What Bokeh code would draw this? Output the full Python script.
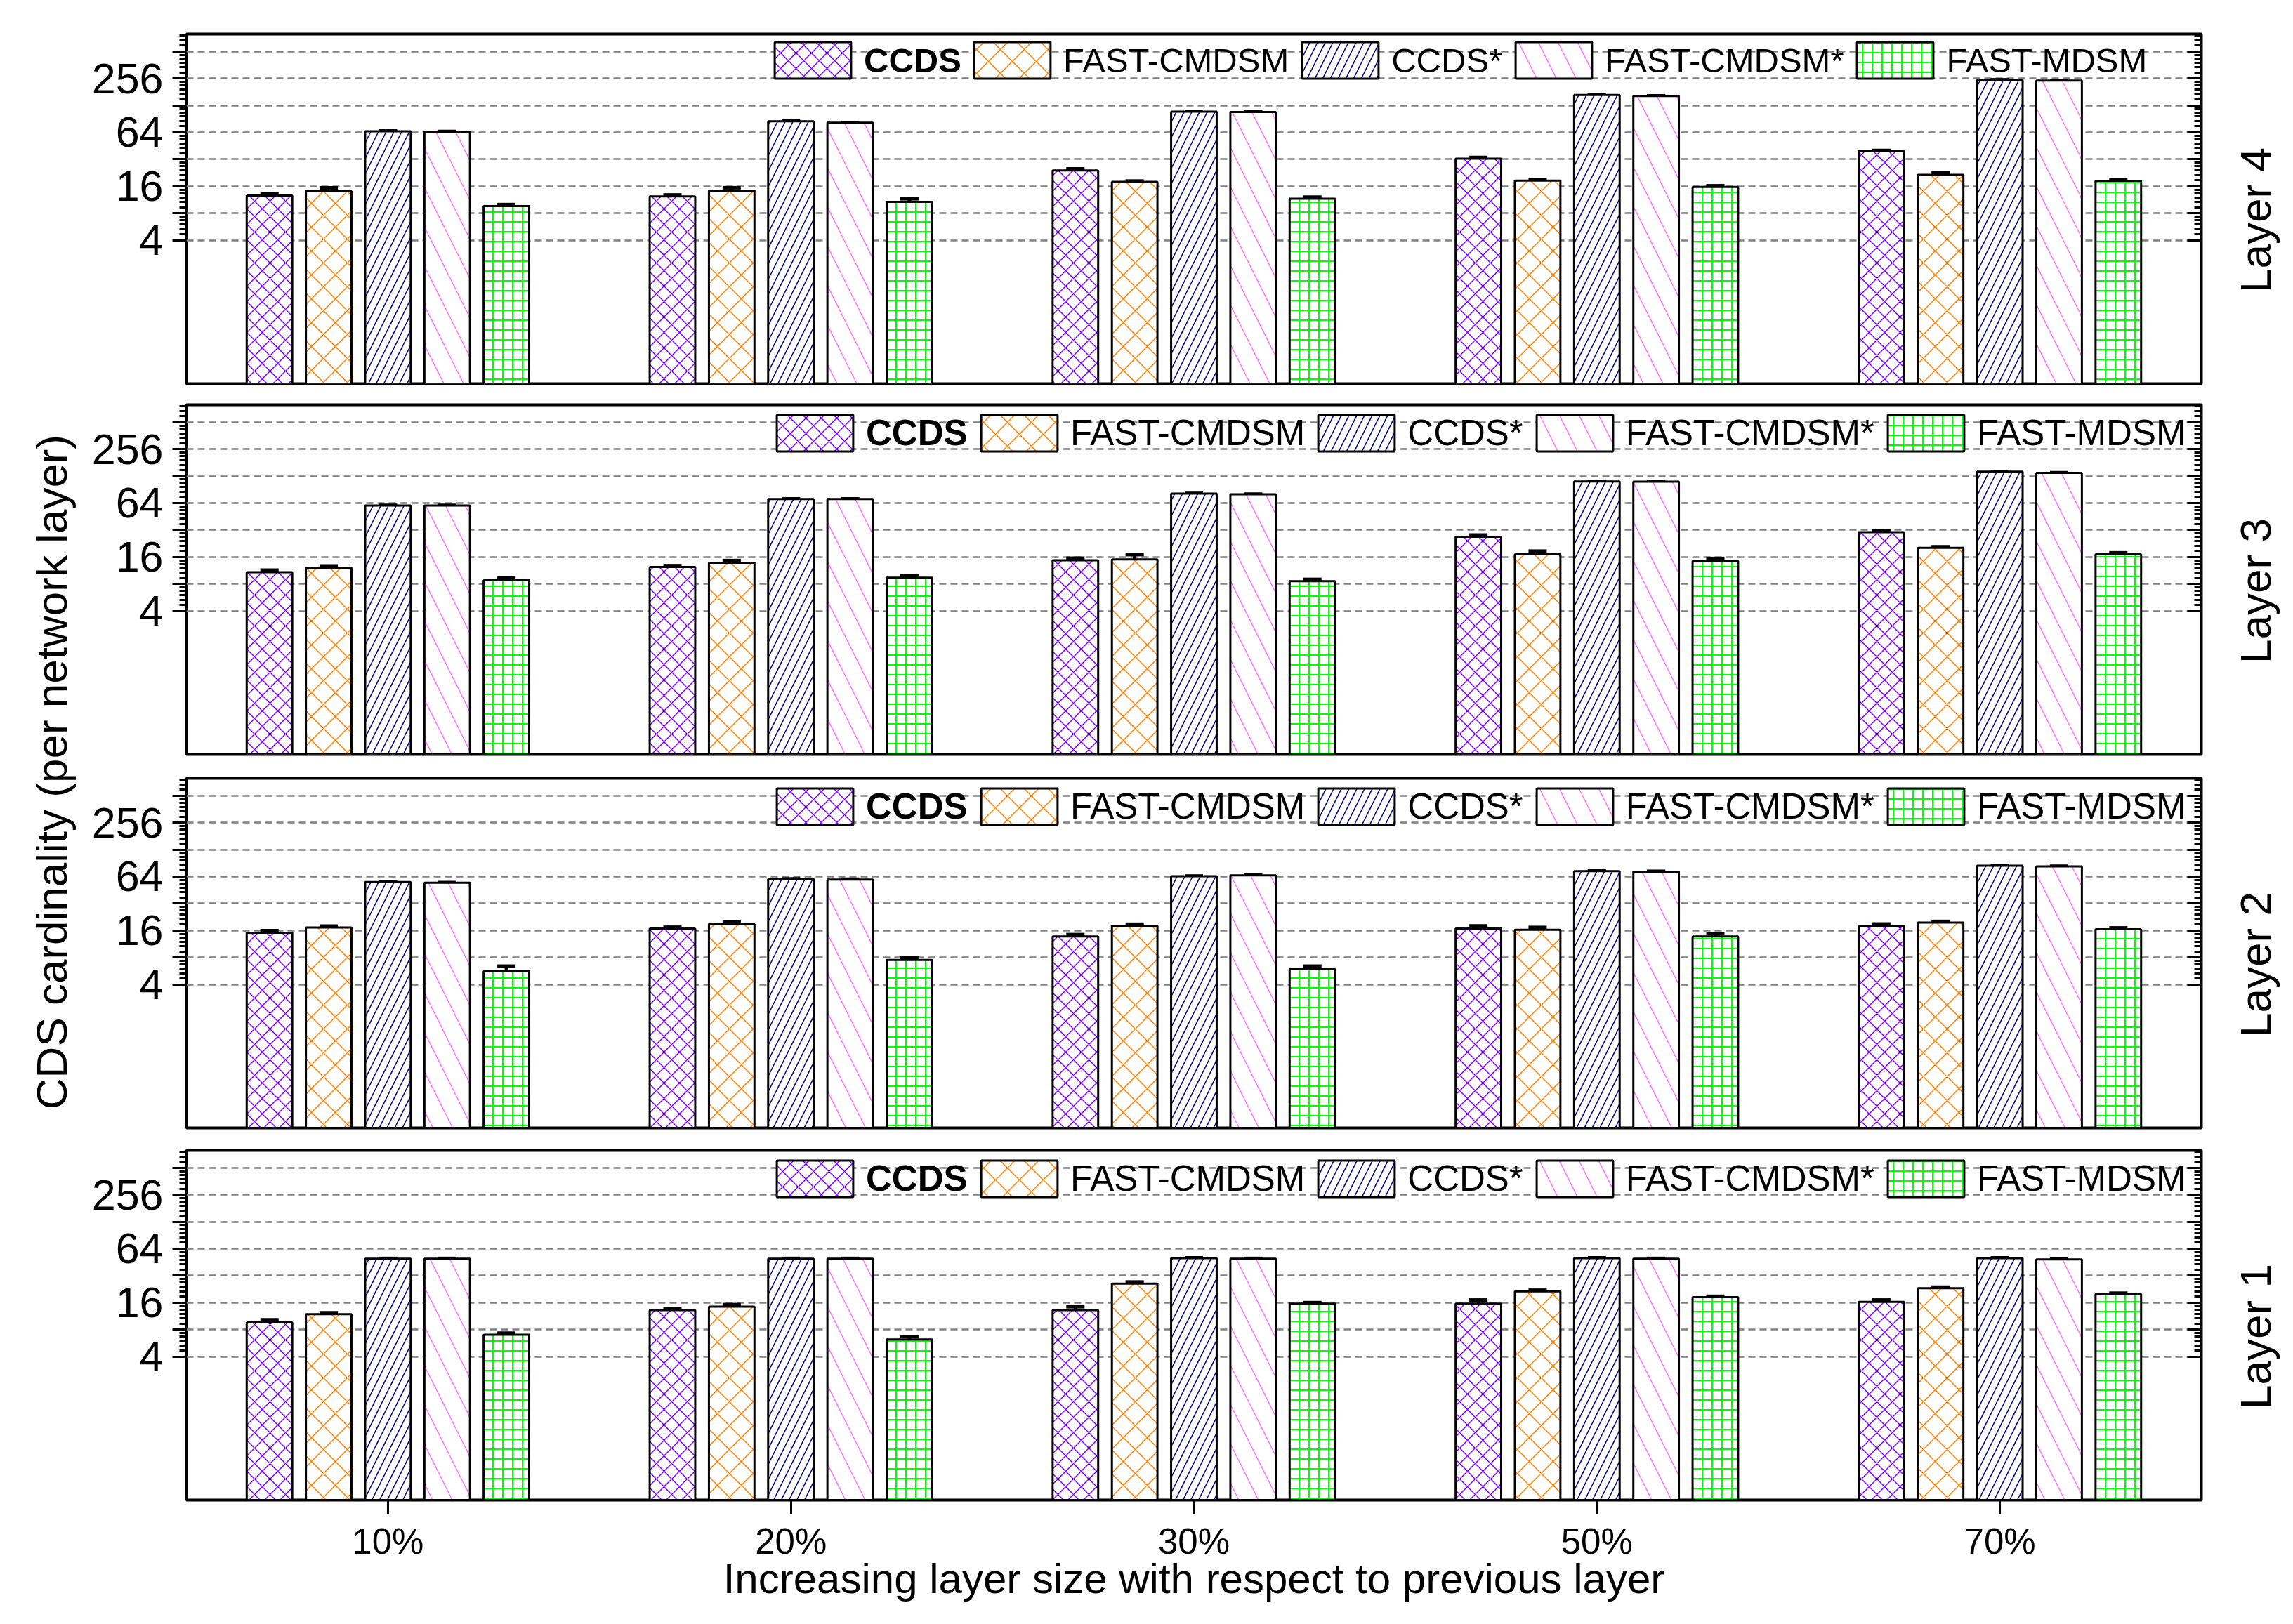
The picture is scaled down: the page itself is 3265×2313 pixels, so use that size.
import math
from bokeh.plotting import figure
from bokeh.models import (FactorRange, Range1d, FixedTicker, LogAxis, Legend, LegendItem,
                          Whisker, TeeHead, ColumnDataSource, Label)
from bokeh.transform import dodge
from bokeh.layouts import column, row
from bokeh.embed import file_html
from bokeh.resources import INLINE

FONT = "Liberation Sans"

# ---------------- data ----------------
groups = ["10%", "20%", "30%", "50%", "70%"]
series = ["CCDS", "FAST-CMDSM", "CCDS*", "FAST-CMDSM*", "FAST-MDSM"]
layers = ["Layer 4", "Layer 3", "Layer 2", "Layer 1"]

# Layer 4 (top panel)
l4_ccds = [12.6, 12.3, 24.0, 32.5, 39.3]
l4_fcm = [14.1, 14.3, 17.9, 18.5, 21.5]
l4_ccds_s = [65.8, 84.8, 109.0, 167.0, 246.0]
l4_fcm_s = [65.0, 82.0, 108.0, 163.0, 242.0]
l4_fmdsm = [9.6, 10.7, 11.6, 15.7, 18.4]
l4_err = [[0.6, 0.5, 1.0, 1.0, 0.9], [1.3, 1.1, 0.4, 0.5, 1.2], [0.4, 0.4, 0.5, 0.5, 0.5],
          [0.4, 0.4, 0.5, 0.5, 0.5], [0.4, 0.9, 0.5, 0.5, 0.7]]

# Layer 3
l3_ccds = [10.8, 12.4, 14.7, 26.9, 30.2]
l3_fcm = [12.1, 13.8, 15.0, 17.1, 20.2]
l3_ccds_s = [60.0, 71.0, 81.6, 111.6, 143.5]
l3_fcm_s = [60.0, 71.0, 80.0, 111.0, 139.0]
l3_fmdsm = [8.8, 9.4, 8.6, 14.4, 17.1]
l3_err = [[0.6, 0.4, 0.8, 1.2, 1.0], [0.6, 0.8, 2.0, 1.5, 0.6], [0.4, 0.4, 0.5, 0.5, 0.5],
          [0.4, 0.4, 0.5, 0.5, 0.5], [0.5, 0.4, 0.4, 1.0, 0.7]]

# Layer 2
l2_ccds = [15.1, 16.8, 13.7, 16.8, 18.1]
l2_fcm = [17.3, 18.9, 18.1, 16.3, 19.6]
l2_ccds_s = [55.5, 60.0, 64.5, 73.5, 84.4]
l2_fcm_s = [54.5, 59.3, 66.0, 72.7, 83.0]
l2_fmdsm = [5.6, 7.5, 5.9, 13.7, 16.5]
l2_err = [[0.8, 0.6, 0.7, 1.2, 0.8], [0.6, 1.2, 0.7, 1.0, 0.6], [0.4, 0.4, 0.4, 0.5, 0.5],
          [0.4, 0.4, 0.4, 0.5, 0.5], [0.8, 0.5, 0.5, 1.0, 0.6]]

# Layer 1 (bottom panel)
l1_ccds = [9.6, 13.2, 13.2, 15.6, 16.3]
l1_fcm = [11.9, 14.4, 26.0, 21.4, 23.2]
l1_ccds_s = [49.4, 49.4, 50.2, 50.2, 50.2]
l1_fcm_s = [49.4, 49.4, 49.4, 49.4, 48.5]
l1_fmdsm = [7.0, 6.2, 15.6, 18.4, 20.0]
l1_err = [[0.7, 0.4, 1.2, 1.5, 0.8], [0.4, 0.8, 1.2, 0.6, 0.6], [0.4, 0.4, 0.4, 0.4, 0.4],
          [0.4, 0.4, 0.4, 0.4, 0.4], [0.3, 0.5, 0.4, 0.4, 0.4]]

panel_values = [
    [l4_ccds, l4_fcm, l4_ccds_s, l4_fcm_s, l4_fmdsm],
    [l3_ccds, l3_fcm, l3_ccds_s, l3_fcm_s, l3_fmdsm],
    [l2_ccds, l2_fcm, l2_ccds_s, l2_fcm_s, l2_fmdsm],
    [l1_ccds, l1_fcm, l1_ccds_s, l1_fcm_s, l1_fmdsm],
]
panel_errors = [l4_err, l3_err, l2_err, l1_err]

major_ticks = [4, 8, 16, 32, 64, 128, 256, 512]
tick_labels = {4: "4", 8: "", 16: "16", 32: "", 64: "64", 128: "", 256: "256", 512: ""}

# ---------------- styles ----------------
hatch_colors = ["#8000ff", "#ff8000", "#000080", "#ff77ff", "#00ff00"]
hatch_patterns = ["x", "x", "/", "\\", "+"]
hatch_scales = [22, 34, 22, 56, 14]
hatch_weights = [1.5, 1.5, 1.5, 1.5, 2.0]
offsets = [-0.294, -0.147, 0.0, 0.147, 0.294]
BAR_W = 0.113

FRAME_W, FRAME_H = 2869, 498
BORDER_L, BORDER_R = 145, 20
LEFT_W, RIGHT_W = 120, 100
tops = [48, 15, 17, 16]
bottoms = [15, 17, 16, 160]
legend_font = ["49px", "51px", "51px", "51px"]
legend_xa = [824, 827, 827, 827]
legend_xb = [1108, 1118, 1118, 1118]
legend_y = [428, 425, 425, 425]

minor = []
for n in range(2, 10):
    for k in range(1, 6):
        v = 2 ** n * (1 + k / 6)
        if v <= 800:
            minor.append(v)


def make_panel(i):
    last = i == 3
    p = figure(x_range=FactorRange(*groups), y_range=Range1d(0.1, 800), y_axis_type="log",
               frame_width=FRAME_W, frame_height=FRAME_H,
               min_border_left=BORDER_L, min_border_right=BORDER_R,
               min_border_top=tops[i], min_border_bottom=bottoms[i],
               toolbar_location=None, output_backend="svg", title=None,
               x_axis_location="below" if last else None, y_axis_location="left")
    p.outline_line_color = "black"
    p.outline_line_width = 4
    p.outline_line_alpha = 1.0
    p.xgrid.visible = False
    p.background_fill_color = "white"
    p.border_fill_color = "white"

    yax = p.yaxis[0]
    yax.ticker = FixedTicker(ticks=major_ticks, minor_ticks=minor)
    yax.bounds = (4, 800)
    yax.major_label_overrides = {float(k): v for k, v in tick_labels.items()}
    yax.major_label_text_font = FONT
    yax.major_label_text_font_size = "61px"
    yax.major_label_text_color = "black"
    yax.major_label_standoff = 13
    yax.major_tick_out = 20
    yax.major_tick_in = 0
    yax.minor_tick_out = 10
    yax.minor_tick_in = 0
    yax.major_tick_line_width = 3
    yax.minor_tick_line_width = 3
    yax.axis_line_color = None

    p.ygrid.grid_line_color = "#808080"
    p.ygrid.grid_line_dash = "10 6"
    p.ygrid.grid_line_width = 2.5

    rax = LogAxis(ticker=FixedTicker(ticks=major_ticks, minor_ticks=minor), bounds=(4, 800),
                  major_label_overrides={float(k): "" for k in tick_labels},
                  major_label_text_font_size="1px",
                  major_tick_in=20, major_tick_out=0, minor_tick_in=10, minor_tick_out=0,
                  major_tick_line_width=3, minor_tick_line_width=3, axis_line_color=None)
    p.add_layout(rax, "right")

    vals = panel_values[i]
    errs = panel_errors[i]
    data = {"x": groups}
    for j in range(5):
        data[f"v{j}"] = vals[j]
        data[f"u{j}"] = [a + b for a, b in zip(vals[j], errs[j])]
        data[f"l{j}"] = [a - b for a, b in zip(vals[j], errs[j])]
    src = ColumnDataSource(data)

    rs = []
    for j in range(5):
        r = p.vbar(x=dodge("x", offsets[j], range=p.x_range), top=f"v{j}", bottom=0.01,
                   width=BAR_W, source=src, fill_color="white",
                   hatch_pattern=hatch_patterns[j], hatch_color=hatch_colors[j],
                   hatch_scale=hatch_scales[j], hatch_weight=hatch_weights[j],
                   line_color="black", line_width=3)
        rs.append(r)
    for j in range(5):
        w = Whisker(source=src, base=dodge("x", offsets[j], range=p.x_range),
                    upper=f"u{j}", lower=f"l{j}", line_color="black", line_width=5,
                    upper_head=TeeHead(size=26, line_width=5, line_color="black"),
                    lower_head=TeeHead(size=26, line_width=5, line_color="black"))
        p.add_layout(w)

    common = dict(orientation="horizontal", label_text_font=FONT,
                  label_text_font_size=legend_font[i], label_text_color="black",
                  glyph_width=136, glyph_height=65,
                  label_standoff=5, spacing=5, padding=0, margin=0,
                  border_line_color=None, background_fill_alpha=0)
    leg_a = Legend(items=[LegendItem(label=series[0], renderers=[rs[0]])],
                   location=(legend_xa[i], legend_y[i]), label_text_font_style="bold", **common)
    leg_b = Legend(items=[LegendItem(label=series[j], renderers=[rs[j]]) for j in range(1, 5)],
                   location=(legend_xb[i], legend_y[i]), **common)
    p.add_layout(leg_a, "center")
    p.add_layout(leg_b, "center")

    if last:
        xax = p.xaxis[0]
        xax.major_tick_out = 20
        xax.major_tick_in = 0
        xax.major_tick_line_width = 3
        xax.axis_line_color = None
        xax.major_label_text_font = FONT
        xax.major_label_text_font_size = "51px"
        xax.major_label_text_color = "black"
        xax.major_label_standoff = 10
        xax.axis_label = "Increasing layer size with respect to previous layer"
        xax.axis_label_text_font = FONT
        xax.axis_label_text_font_size = "60px"
        xax.axis_label_text_font_style = "normal"
        xax.axis_label_text_color = "black"
        xax.axis_label_standoff = -12
    return p


def blank_fig(w, h):
    f = figure(width=w, height=h, x_range=Range1d(0, 1), y_range=Range1d(0, 1),
               toolbar_location=None, output_backend="svg", title=None,
               x_axis_location=None, y_axis_location=None, min_border=0)
    f.outline_line_color = None
    f.grid.visible = False
    return f


panels = [make_panel(i) for i in range(4)]
heights = [tops[i] + FRAME_H + bottoms[i] for i in range(4)]
total_h = sum(heights)

rights = []
for i in range(4):
    rf = blank_fig(RIGHT_W, heights[i])
    rf.add_layout(Label(x=57 / RIGHT_W, y=1 - (tops[i] + FRAME_H / 2 + 16) / heights[i],
                        text=layers[i], angle=math.pi / 2,
                        text_align="center", text_baseline="alphabetic",
                        text_font=FONT, text_font_size="62px", text_color="black"))
    rights.append(rf)

ty = blank_fig(LEFT_W, total_h)
ty.add_layout(Label(x=73 / LEFT_W, y=1 - 1099 / total_h,
                    text="CDS cardinality (per network layer)", angle=math.pi / 2,
                    text_align="center", text_baseline="middle",
                    text_font=FONT, text_font_size="62px", text_color="black"))

layout = row(ty, column(*panels, spacing=0), column(*rights, spacing=0), spacing=0)
open("out.html", "w").write(file_html(layout, INLINE))
